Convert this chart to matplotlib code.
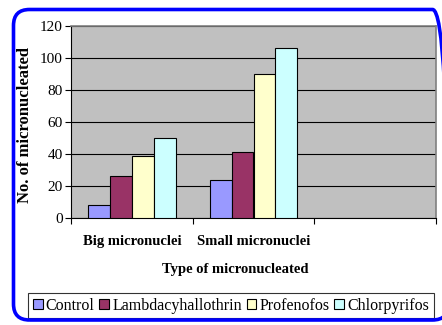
import numpy as np
import matplotlib.pyplot as plt
from matplotlib.patches import FancyBboxPatch

# Datos
tipos = ["Big micronuclei", "Small micronuclei", ""]
tratamientos = ["Control", "Lambdacyhallothrin", "Profenofos", "Chlorpyrifos"]
control = [8, 24, 0]
lambdacyhallothrin = [26, 41, 0]
profenofos = [39, 90, 0]
chlorpyrifos = [50, 106, 0]
colores = ["#9999FF", "#993366", "#FFFFCC", "#CCFFFF"]
yticks = [0, 20, 40, 60, 80, 100, 120]

plt.rcParams['font.family'] = ['Liberation Serif', 'DejaVu Serif']

fig = plt.figure(figsize=(4.42, 3.25), dpi=100)
ax = fig.add_axes([71 / 442, 107 / 325, 365 / 442, 192 / 325])
ax.set_facecolor("#C0C0C0")

series = [control, lambdacyhallothrin, profenofos, chlorpyrifos]
centros = np.arange(len(tipos)) + 0.5
ancho = 0.18
for i, (nombre, valores) in enumerate(zip(tratamientos, series)):
    pos = centros + (i - 1.5) * ancho
    # la tercera categoria queda vacia
    ax.bar(pos[:2], valores[:2], width=ancho, color=colores[i],
           edgecolor="black", linewidth=0.8, label=nombre, zorder=3)

# Ejes
ax.set_xlim(0, 3)
ax.set_ylim(0, 120)
ax.set_yticks(yticks)
ax.set_yticklabels([str(v) for v in yticks], fontsize=11)
ax.yaxis.grid(True, color="black", linewidth=0.8, zorder=1)
ax.set_axisbelow(True)

ax.set_xticks([0, 1, 2, 3])
ax.set_xticklabels([])
ax.set_xticks(centros, minor=True)
ax.set_xticklabels(tipos, minor=True, fontsize=10.5, fontweight="bold")
ax.tick_params(axis="x", which="minor", length=0, pad=12)
ax.tick_params(axis="x", which="major", length=4, width=0.8, direction="out")
ax.tick_params(axis="y", length=4, width=0.8, direction="out", pad=2)

for lado in ["top", "right"]:
    ax.spines[lado].set_color("#808080")
    ax.spines[lado].set_linewidth(1.2)
for lado in ["left", "bottom"]:
    ax.spines[lado].set_color("black")
    ax.spines[lado].set_linewidth(0.8)

fig.text(25 / 442, 1 - 125 / 325, "No. of micronucleated", fontsize=12,
         fontweight="bold", rotation=90, ha="center", va="center")
fig.text(235 / 442, 1 - 270 / 325, "Type of micronucleated", fontsize=10.5,
         fontweight="bold", ha="center", va="center")

# Leyenda
leg = fig.legend(loc="center", bbox_to_anchor=(231 / 442, 1 - 305.5 / 325), ncol=4,
                 prop={"family": "Liberation Serif", "size": 11.5},
                 frameon=True, fancybox=False, edgecolor="black",
                 handlelength=0.6, handleheight=0.6, handletextpad=0.2,
                 columnspacing=0.3, borderpad=0.3, borderaxespad=0)
leg.get_frame().set_linewidth(0.8)

# Marco azul redondeado
marco = FancyBboxPatch((0.135, 0.05), 4.35, 3.105,
                       boxstyle="round,pad=0,rounding_size=0.16",
                       transform=fig.dpi_scale_trans, facecolor="none",
                       edgecolor="#0000FF", linewidth=2.6, zorder=10)
fig.patches.append(marco)

plt.savefig("out.png", dpi=100)
